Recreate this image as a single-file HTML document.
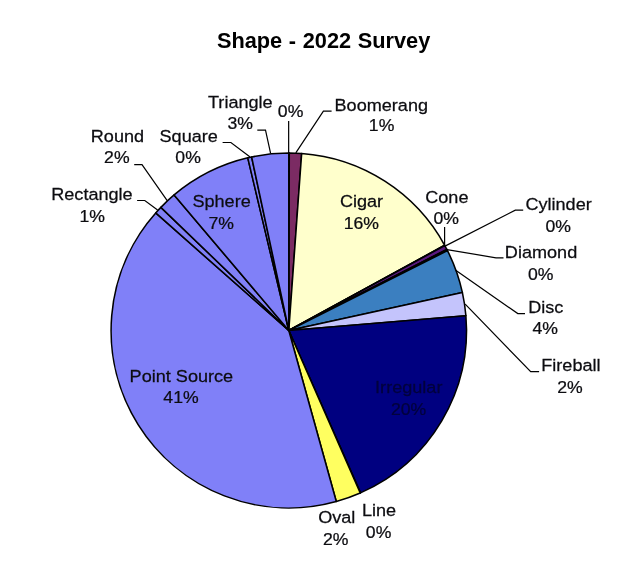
<!DOCTYPE html>
<html lang="en"><head><meta charset="utf-8"><title>Shape - 2022 Survey</title>
<style>html,body{margin:0;padding:0;background:#fff}svg{display:block}</style></head>
<body><svg width="640" height="581" viewBox="0 0 640 581">
<rect width="640" height="581" fill="#fff"/>
<g stroke="#000" stroke-width="1.55" stroke-linejoin="round">
<path d="M288.80 330.50L288.80 153.05A177.7 177.45 0 0 1 289.27 153.05Z" fill="#8080f8"/>
<path d="M288.80 330.50L289.27 153.05A177.7 177.45 0 0 1 301.66 153.52Z" fill="#7b2b63"/>
<path d="M288.80 330.50L301.66 153.52A177.7 177.45 0 0 1 444.67 245.28Z" fill="#ffffcc"/>
<path d="M288.80 330.50L444.67 245.28A177.7 177.45 0 0 1 444.82 245.56Z" fill="#ccffff"/>
<path d="M288.80 330.50L444.82 245.56A177.7 177.45 0 0 1 446.85 249.39Z" fill="#5a1880"/>
<path d="M288.80 330.50L446.85 249.39A177.7 177.45 0 0 1 447.48 250.63Z" fill="#ff8080"/>
<path d="M288.80 330.50L447.48 250.63A177.7 177.45 0 0 1 462.35 292.40Z" fill="#3b7fc0"/>
<path d="M288.80 330.50L462.35 292.40A177.7 177.45 0 0 1 465.88 315.65Z" fill="#c4c4fc"/>
<path d="M288.80 330.50L465.88 315.65A177.7 177.45 0 0 1 360.51 492.86Z" fill="#000080"/>
<path d="M288.80 330.50L360.51 492.86A177.7 177.45 0 0 1 360.23 492.98Z" fill="#ff00ff"/>
<path d="M288.80 330.50L360.23 492.98A177.7 177.45 0 0 1 336.29 501.50Z" fill="#ffff60"/>
<path d="M288.80 330.50L336.29 501.50A177.7 177.45 0 0 1 155.71 212.92Z" fill="#8080f8"/>
<path d="M288.80 330.50L155.71 212.92A177.7 177.45 0 0 1 160.87 207.34Z" fill="#8080f8"/>
<path d="M288.80 330.50L160.87 207.34A177.7 177.45 0 0 1 174.10 194.96Z" fill="#8080f8"/>
<path d="M288.80 330.50L174.10 194.96A177.7 177.45 0 0 1 247.77 157.85Z" fill="#8080f8"/>
<path d="M288.80 330.50L247.77 157.85A177.7 177.45 0 0 1 251.64 156.97Z" fill="#8080f8"/>
<path d="M288.80 330.50L251.64 156.97A177.7 177.45 0 0 1 288.80 153.05Z" fill="#8080f8"/>
</g>
<g fill="none" stroke="#000" stroke-width="1.2">
<polyline points="288.65,120.90 288.65,153.00"/>
<polyline points="295.80,152.90 323.40,111.20 331.60,111.20"/>
<polyline points="444.60,227.10 444.60,245.00"/>
<polyline points="445.50,245.90 515.30,210.10 523.20,210.10"/>
<polyline points="447.00,249.60 496.00,257.80 503.50,257.80"/>
<polyline points="455.70,270.30 517.80,313.60 525.00,313.60"/>
<polyline points="465.20,304.10 530.70,371.70 539.10,371.70"/>
<polyline points="157.60,210.00 144.80,200.50 137.10,200.50"/>
<polyline points="167.20,200.60 142.00,164.70 134.20,164.70"/>
<polyline points="250.10,157.00 230.90,142.50 222.60,142.50"/>
<polyline points="270.60,153.30 265.50,130.20 257.30,130.20"/>
</g>
<g font-family="'Liberation Sans', Arial, sans-serif" font-size="17.2" fill="#0c0c10" stroke="#0c0c10" stroke-width="0.25" text-anchor="middle">
<text transform="translate(290.60 116.60) scale(1.025 1)">0%</text>
<text transform="translate(381.25 110.50) scale(1.052 1)">Boomerang</text>
<text transform="translate(381.60 131.10) scale(1.025 1)">1%</text>
<text transform="translate(361.50 207.30) scale(1.052 1)">Cigar</text>
<text transform="translate(361.40 228.90) scale(1.025 1)">16%</text>
<text transform="translate(446.85 202.50) scale(1.052 1)">Cone</text>
<text transform="translate(446.20 223.70) scale(1.025 1)">0%</text>
<text transform="translate(558.60 210.00) scale(1.052 1)">Cylinder</text>
<text transform="translate(558.30 231.60) scale(1.025 1)">0%</text>
<text transform="translate(541.00 258.40) scale(1.052 1)">Diamond</text>
<text transform="translate(540.70 280.30) scale(1.025 1)">0%</text>
<text transform="translate(545.80 313.30) scale(1.052 1)">Disc</text>
<text transform="translate(545.30 334.20) scale(1.025 1)">4%</text>
<text transform="translate(570.90 371.10) scale(1.052 1)">Fireball</text>
<text transform="translate(569.90 392.50) scale(1.025 1)">2%</text>
<text fill="#02023c" stroke="#02023c" transform="translate(408.75 392.90) scale(1.052 1)">Irregular</text>
<text fill="#02023c" stroke="#02023c" transform="translate(408.60 414.70) scale(1.025 1)">20%</text>
<text transform="translate(379.00 515.50) scale(1.052 1)">Line</text>
<text transform="translate(378.60 537.90) scale(1.025 1)">0%</text>
<text transform="translate(336.80 523.20) scale(1.052 1)">Oval</text>
<text transform="translate(335.80 544.80) scale(1.025 1)">2%</text>
<text transform="translate(181.35 381.75) scale(1.052 1)">Point Source</text>
<text transform="translate(181.00 403.00) scale(1.025 1)">41%</text>
<text transform="translate(91.95 200.40) scale(1.052 1)">Rectangle</text>
<text transform="translate(92.20 221.50) scale(1.025 1)">1%</text>
<text transform="translate(117.40 141.50) scale(1.052 1)">Round</text>
<text transform="translate(116.85 163.40) scale(1.025 1)">2%</text>
<text transform="translate(221.55 207.40) scale(1.052 1)">Sphere</text>
<text transform="translate(221.20 228.90) scale(1.025 1)">7%</text>
<text transform="translate(188.70 142.10) scale(1.052 1)">Square</text>
<text transform="translate(188.10 163.10) scale(1.025 1)">0%</text>
<text transform="translate(240.30 107.50) scale(1.052 1)">Triangle</text>
<text transform="translate(240.30 128.90) scale(1.025 1)">3%</text>
</g>
<text x="323.6" y="48.1" style="word-spacing:0.6px" font-family="'Liberation Sans', Arial, sans-serif" font-weight="bold" font-size="21.75" fill="#000" text-anchor="middle">Shape - 2022 Survey</text>
</svg></body></html>
